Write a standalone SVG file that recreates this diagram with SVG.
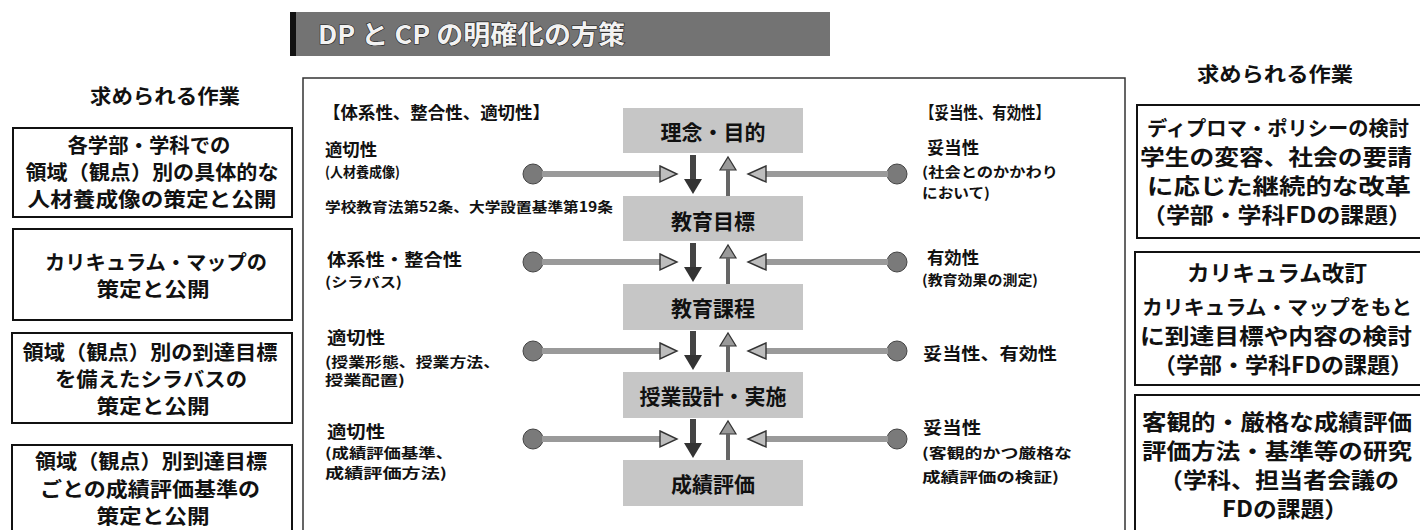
<svg xmlns="http://www.w3.org/2000/svg" width="1420" height="530" viewBox="0 0 1420 530">
<style>
text{font-family:"Noto Sans CJK JP","Noto Sans CJK SC",sans-serif;font-weight:bold;fill:#111}
.box{fill:#fff;stroke:#111;stroke-width:2}
.frame{fill:none;stroke:#333;stroke-width:1.5}
.cbox{fill:#c6c6c6}
.bt{font-size:20px;text-anchor:middle}
.rt{font-size:22px;text-anchor:middle}
.rs{font-size:20px}
.hd{font-size:20px;text-anchor:middle}
.ct{font-size:21px;text-anchor:middle}
.lb{font-size:17px}
.sb{font-size:14px}
.ttl{font-size:26px;fill:#f2f2f2;stroke:#222;stroke-width:1.2;paint-order:stroke}
.shaft{fill:#9a9a9a}
.dot{fill:#7a7a7a;stroke:#444;stroke-width:1}
.hhead{fill:#bdbdbd;stroke:#333;stroke-width:1.4}
.dshaft{fill:#444}
.dhead{fill:#333}
.ushaft{fill:#666}
.uhead{fill:#9a9a9a;stroke:#333;stroke-width:1.2}
</style>
<defs>
<g id="arrL">
<circle class="dot" cx="533" cy="0" r="10"/>
<rect class="shaft" x="542" y="-3" width="120" height="6"/>
<polygon class="hhead" points="660,-8 677,0 660,8"/>
</g>
<g id="arrR">
<circle class="dot" cx="897" cy="0" r="10"/>
<rect class="shaft" x="764" y="-3" width="124" height="6"/>
<polygon class="hhead" points="766,-8 748,0 766,8"/>
</g>
<g id="arrD">
<rect class="dshaft" x="690" y="-20" width="6" height="26"/>
<polygon class="dhead" points="684,4 702,4 693,19"/>
</g>
<g id="arrU">
<polygon class="uhead" points="720,-5 736,-5 728,-18"/>
<rect class="ushaft" x="726" y="-6" width="4" height="27"/>
</g>
</defs>
<rect width="1420" height="530" fill="#fff"/>

<g id="banner">
<rect x="290" y="12" width="540" height="44" fill="#737373"/>
<rect x="290" y="12" width="6" height="44" fill="#111"/>
<text class="ttl" x="318" y="44" textLength="307" lengthAdjust="spacingAndGlyphs">DP と CP の明確化の方策</text>
</g>

<g id="frame"><rect class="frame" x="303" y="78" width="822" height="470"/></g>

<g id="left-heading"><text class="hd" x="165" y="104" textLength="150" lengthAdjust="spacingAndGlyphs">求められる作業</text></g>
<g id="right-heading"><text class="hd" x="1275" y="82" textLength="156" lengthAdjust="spacingAndGlyphs">求められる作業</text></g>

<g id="L1">
<rect class="box" x="13" y="128" width="279" height="89"/>
<text class="bt" x="149" y="153" textLength="163" lengthAdjust="spacingAndGlyphs">各学部・学科での</text>
<text class="bt" x="152" y="180" textLength="253" lengthAdjust="spacingAndGlyphs">領域（観点）別の具体的な</text>
<text class="bt" x="152" y="207" textLength="249" lengthAdjust="spacingAndGlyphs">人材養成像の策定と公開</text>
</g>
<g id="L2">
<rect class="box" x="13" y="229" width="279" height="91"/>
<text class="bt" x="156" y="270" textLength="222" lengthAdjust="spacingAndGlyphs">カリキュラム・マップの</text>
<text class="bt" x="153" y="297" textLength="113" lengthAdjust="spacingAndGlyphs">策定と公開</text>
</g>
<g id="L3">
<rect class="box" x="12" y="333" width="280" height="90"/>
<text class="bt" x="150" y="360" textLength="255" lengthAdjust="spacingAndGlyphs">領域（観点）別の到達目標</text>
<text class="bt" x="151" y="387" textLength="192" lengthAdjust="spacingAndGlyphs">を備えたシラバスの</text>
<text class="bt" x="153" y="414" textLength="113" lengthAdjust="spacingAndGlyphs">策定と公開</text>
</g>
<g id="L4">
<rect class="box" x="12" y="445" width="280" height="95"/>
<text class="bt" x="151" y="469" textLength="232" lengthAdjust="spacingAndGlyphs">領域（観点）別到達目標</text>
<text class="bt" x="150" y="497" textLength="220" lengthAdjust="spacingAndGlyphs">ごとの成績評価基準の</text>
<text class="bt" x="153" y="524" textLength="113" lengthAdjust="spacingAndGlyphs">策定と公開</text>
</g>

<g id="R1">
<rect class="box" x="1137" y="105" width="290" height="133"/>
<text class="rt rs" x="1278" y="136" textLength="262" lengthAdjust="spacingAndGlyphs">ディプロマ・ポリシーの検討</text>
<text class="rt" x="1276" y="165" textLength="272" lengthAdjust="spacingAndGlyphs">学生の変容、社会の要請</text>
<text class="rt" x="1279" y="194" textLength="264" lengthAdjust="spacingAndGlyphs">に応じた継続的な改革</text>
<text class="rt" x="1277" y="223" textLength="270" lengthAdjust="spacingAndGlyphs">（学部・学科FDの課題）</text>
</g>
<g id="R2">
<rect class="box" x="1135" y="252" width="292" height="133"/>
<text class="rt" x="1277" y="281" textLength="180" lengthAdjust="spacingAndGlyphs">カリキュラム改訂</text>
<text class="rt rs" x="1277" y="315" textLength="270" lengthAdjust="spacingAndGlyphs">カリキュラム・マップをもと</text>
<text class="rt" x="1276" y="344" textLength="272" lengthAdjust="spacingAndGlyphs">に到達目標や内容の検討</text>
<text class="rt" x="1283" y="373" textLength="260" lengthAdjust="spacingAndGlyphs">（学部・学科FDの課題）</text>
</g>
<g id="R3">
<rect class="box" x="1135" y="395" width="292" height="145"/>
<text class="rt" x="1277" y="430" textLength="270" lengthAdjust="spacingAndGlyphs">客観的・厳格な成績評価</text>
<text class="rt" x="1277" y="459" textLength="270" lengthAdjust="spacingAndGlyphs">評価方法・基準等の研究</text>
<text class="rt" x="1279" y="488" textLength="240" lengthAdjust="spacingAndGlyphs">（学科、担当者会議の</text>
<text class="rt" x="1285" y="517" textLength="126" lengthAdjust="spacingAndGlyphs">FDの課題）</text>
</g>

<g id="C1"><rect class="cbox" x="623" y="108" width="180" height="45"/><text class="ct" x="713" y="140">理念・目的</text></g>
<g id="C2"><rect class="cbox" x="623" y="196" width="180" height="45"/><text class="ct" x="713" y="229">教育目標</text></g>
<g id="C3"><rect class="cbox" x="623" y="284" width="180" height="46"/><text class="ct" x="713" y="316">教育課程</text></g>
<g id="C4"><rect class="cbox" x="623" y="372" width="180" height="46"/><text class="ct" x="713" y="404">授業設計・実施</text></g>
<g id="C5"><rect class="cbox" x="623" y="460" width="180" height="46"/><text class="ct" x="713" y="492">成績評価</text></g>

<g id="left-labels">
<text class="lb" x="323" y="119" font-size="16" textLength="227" lengthAdjust="spacingAndGlyphs">【体系性、整合性、適切性】</text>
<text class="lb" x="325" y="156" textLength="52" lengthAdjust="spacingAndGlyphs">適切性</text>
<text class="sb" x="325" y="177" textLength="75" lengthAdjust="spacingAndGlyphs">(人材養成像)</text>
<text class="sb" x="325" y="212" textLength="288" lengthAdjust="spacingAndGlyphs">学校教育法第52条、大学設置基準第19条</text>
<text class="lb" x="327" y="266" textLength="135" lengthAdjust="spacingAndGlyphs">体系性・整合性</text>
<text class="sb" x="325" y="287" textLength="77" lengthAdjust="spacingAndGlyphs">(シラバス)</text>
<text class="lb" x="327" y="344" textLength="58" lengthAdjust="spacingAndGlyphs">適切性</text>
<text class="sb" x="325" y="367" textLength="175" lengthAdjust="spacingAndGlyphs">(授業形態、授業方法、</text>
<text class="sb" x="325" y="385" textLength="80" lengthAdjust="spacingAndGlyphs">授業配置)</text>
<text class="lb" x="327" y="438" textLength="58" lengthAdjust="spacingAndGlyphs">適切性</text>
<text class="sb" x="325" y="458" textLength="128" lengthAdjust="spacingAndGlyphs">(成績評価基準、</text>
<text class="sb" x="325" y="478" textLength="122" lengthAdjust="spacingAndGlyphs">成績評価方法)</text>
</g>
<g id="right-labels">
<text class="lb" x="920" y="119" font-size="16" textLength="130" lengthAdjust="spacingAndGlyphs">【妥当性、有効性】</text>
<text class="lb" x="927" y="154" textLength="52" lengthAdjust="spacingAndGlyphs">妥当性</text>
<text class="sb" x="922" y="177" textLength="136" lengthAdjust="spacingAndGlyphs">(社会とのかかわり</text>
<text class="sb" x="922" y="198" textLength="68" lengthAdjust="spacingAndGlyphs">において)</text>
<text class="lb" x="927" y="264" textLength="52" lengthAdjust="spacingAndGlyphs">有効性</text>
<text class="sb" x="922" y="285" textLength="116" lengthAdjust="spacingAndGlyphs">(教育効果の測定)</text>
<text class="lb" x="923" y="360" font-size="19" textLength="134" lengthAdjust="spacingAndGlyphs">妥当性、有効性</text>
<text class="lb" x="923" y="434" textLength="58" lengthAdjust="spacingAndGlyphs">妥当性</text>
<text class="sb" x="922" y="458" textLength="150" lengthAdjust="spacingAndGlyphs">(客観的かつ厳格な</text>
<text class="sb" x="922" y="482" textLength="137" lengthAdjust="spacingAndGlyphs">成績評価の検証)</text>
</g>

<g id="connectors">
<use href="#arrL" transform="translate(0,174)"/>
<use href="#arrL" transform="translate(0,262)"/>
<use href="#arrL" transform="translate(0,351)"/>
<use href="#arrL" transform="translate(0,439)"/>
<use href="#arrR" transform="translate(0,174)"/>
<use href="#arrR" transform="translate(0,262)"/>
<use href="#arrR" transform="translate(0,351)"/>
<use href="#arrR" transform="translate(0,439)"/>
<use href="#arrD" transform="translate(0,175)"/>
<use href="#arrD" transform="translate(0,263)"/>
<use href="#arrD" transform="translate(0,351)"/>
<use href="#arrD" transform="translate(0,439)"/>
<use href="#arrU" transform="translate(0,175)"/>
<use href="#arrU" transform="translate(0,263)"/>
<use href="#arrU" transform="translate(0,351)"/>
<use href="#arrU" transform="translate(0,439)"/>
</g>
</svg>
